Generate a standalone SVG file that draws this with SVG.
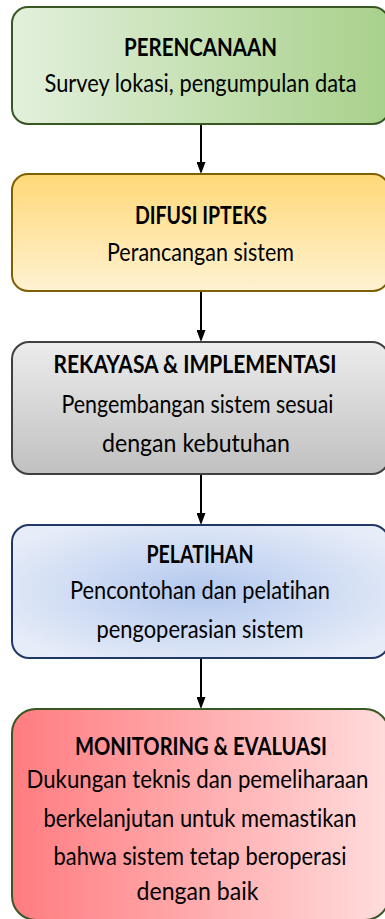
<svg xmlns="http://www.w3.org/2000/svg" width="385" height="919" viewBox="0 0 385 919">
  <defs>
    <linearGradient id="gGreen" x1="0" y1="0" x2="1" y2="0">
      <stop offset="0" stop-color="#e3f0dc"/>
      <stop offset="1" stop-color="#a8d18b"/>
    </linearGradient>
    <linearGradient id="gYellow" x1="0" y1="0" x2="0" y2="1">
      <stop offset="0" stop-color="#ffd978"/>
      <stop offset="1" stop-color="#fff2d2"/>
    </linearGradient>
    <linearGradient id="gGray" x1="0" y1="0" x2="0" y2="1">
      <stop offset="0" stop-color="#ececec"/>
      <stop offset="1" stop-color="#c0c0c0"/>
    </linearGradient>
    <radialGradient id="gBlue" cx="0.5" cy="0.5" r="0.6">
      <stop offset="0" stop-color="#b3c8ee"/>
      <stop offset="1" stop-color="#e6ecf8"/>
    </radialGradient>
    <linearGradient id="gRed" x1="0" y1="0" x2="1" y2="0">
      <stop offset="0" stop-color="#ff7c80"/>
      <stop offset="1" stop-color="#ffdcdc"/>
    </linearGradient>
    <marker id="arrow" viewBox="0 0 12 9" refX="0" refY="4.5" markerWidth="12" markerHeight="9" markerUnits="userSpaceOnUse" orient="auto">
      <path d="M0,0 L12,4.5 L0,9 z" fill="#000"/>
    </marker>
  </defs>
  <style>
    .box { stroke-width: 2; }
    .t { font-family: Lato, "Open Sans", sans-serif; font-size: 22px; fill: #000; text-anchor: middle; font-variant-ligatures: none; }
    .b { font-weight: bold; }
    .conn line { stroke: #000; stroke-width: 2; marker-end: url(#arrow); }
  </style>

  <g id="connectors" class="conn">
    <line x1="201" y1="124" x2="201" y2="162"/>
    <line x1="201" y1="291" x2="201" y2="330"/>
    <line x1="201" y1="474" x2="201" y2="513"/>
    <line x1="201" y1="658" x2="201" y2="697"/>
  </g>

  <g id="perencanaan">
    <rect class="box" x="12" y="7" width="377" height="117" rx="16" fill="url(#gGreen)" stroke="#385723"/>
    <text class="t b" transform="translate(200.5,56) scale(1,1.15)" textLength="153" lengthAdjust="spacingAndGlyphs">PERENCANAAN</text>
    <text class="t" transform="translate(200.5,92) scale(1,1.15)" textLength="312" lengthAdjust="spacingAndGlyphs">Survey lokasi, pengumpulan data</text>
  </g>

  <g id="difusi">
    <rect class="box" x="12" y="174" width="377" height="117" rx="16" fill="url(#gYellow)" stroke="#7f6000"/>
    <text class="t b" transform="translate(201,224) scale(1,1.15)" textLength="132" lengthAdjust="spacingAndGlyphs">DIFUSI IPTEKS</text>
    <text class="t" transform="translate(200.5,261) scale(1,1.15)" textLength="187" lengthAdjust="spacingAndGlyphs">Perancangan sistem</text>
  </g>

  <g id="rekayasa">
    <rect class="box" x="12" y="342" width="377" height="132" rx="17" fill="url(#gGray)" stroke="#404040"/>
    <text class="t b" transform="translate(195,373) scale(1,1.15)" textLength="283" lengthAdjust="spacingAndGlyphs">REKAYASA &amp; IMPLEMENTASI</text>
    <text class="t" transform="translate(197.5,413) scale(1,1.15)" textLength="272" lengthAdjust="spacingAndGlyphs">Pengembangan sistem sesuai</text>
    <text class="t" transform="translate(196,452) scale(1,1.15)" textLength="188" lengthAdjust="spacingAndGlyphs">dengan kebutuhan</text>
  </g>

  <g id="pelatihan">
    <rect class="box" x="12" y="525" width="377" height="133" rx="17" fill="url(#gBlue)" stroke="#203864"/>
    <text class="t b" transform="translate(200,563) scale(1,1.15)" textLength="107" lengthAdjust="spacingAndGlyphs">PELATIHAN</text>
    <text class="t" transform="translate(200,599) scale(1,1.15)" textLength="260" lengthAdjust="spacingAndGlyphs">Pencontohan dan pelatihan</text>
    <text class="t" transform="translate(200,638) scale(1,1.15)" textLength="207" lengthAdjust="spacingAndGlyphs">pengoperasian sistem</text>
  </g>

  <g id="monitoring">
    <rect class="box" x="12" y="709" width="377" height="211" rx="24" fill="url(#gRed)" stroke="#385723"/>
    <text class="t b" transform="translate(201,755) scale(1,1.15)" textLength="252" lengthAdjust="spacingAndGlyphs">MONITORING &amp; EVALUASI</text>
    <text class="t" transform="translate(197.5,788) scale(1,1.15)" textLength="342" lengthAdjust="spacingAndGlyphs">Dukungan teknis dan pemeliharaan</text>
    <text class="t" transform="translate(200,827) scale(1,1.15)" textLength="313" lengthAdjust="spacingAndGlyphs">berkelanjutan untuk memastikan</text>
    <text class="t" transform="translate(200,865) scale(1,1.15)" textLength="293" lengthAdjust="spacingAndGlyphs">bahwa sistem tetap beroperasi</text>
    <text class="t" transform="translate(197.5,900) scale(1,1.15)" textLength="122" lengthAdjust="spacingAndGlyphs">dengan baik</text>
  </g>
</svg>
